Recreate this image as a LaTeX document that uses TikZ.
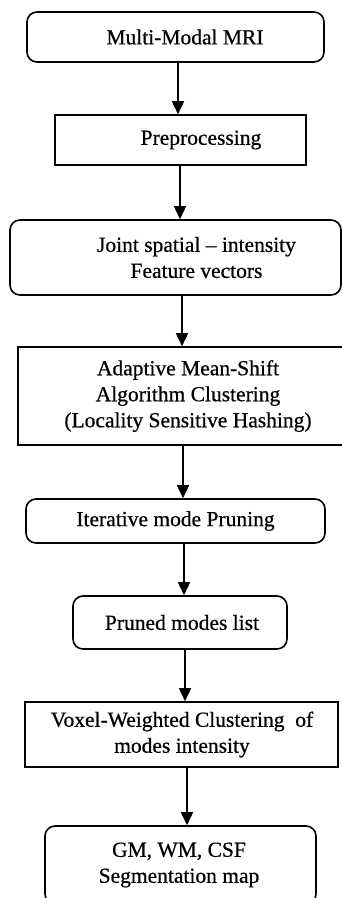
\documentclass[tikz,border=0pt]{standalone}
\usepackage{fontspec}
\setmainfont{Liberation Serif}[UprightFeatures={FakeBold=0.6}]
\usetikzlibrary{arrows.meta}

\newcommand{\boxfont}{\fontsize{21.5}{26}\selectfont}

\tikzset{
  base/.style={draw=black, line width=1.6pt, inner sep=0pt, fill=white},
  rbox/.style={base, rounded corners=10pt},
  sbox/.style={base},
  txt/.style={font=\boxfont, align=center, inner sep=0pt},
  arr/.style={line width=1.6pt, -{Triangle[width=12pt,length=13pt]}}
}

\begin{document}
\begin{tikzpicture}[x=1pt, y=-1pt]
  \path[use as bounding box, clip] (0,0) rectangle (342,898);

  % process steps
  \node[rbox, minimum width=297pt, minimum height=50pt,
        label={[txt, xshift=9.5pt]center:Multi-Modal MRI}] (n1) at (175.5,37) {};
  \node[sbox, minimum width=251pt, minimum height=50pt,
        label={[txt, xshift=20.5pt]center:Preprocessing}] (n2) at (180.5,140) {};
  \node[rbox, minimum width=331pt, minimum height=75pt,
        label={[txt, xshift=21pt]center:{Joint spatial – intensity\\Feature vectors}}] (n3) at (175.5,257.5) {};
  \node[sbox, minimum width=334pt, minimum height=98pt,
        label={[txt, xshift=3pt]center:{Adaptive Mean-Shift\\Algorithm Clustering\\(Locality Sensitive Hashing)}}] (n4) at (185,396) {};
  \node[rbox, minimum width=299pt, minimum height=44pt,
        label={[txt]center:Iterative mode Pruning}] (n5) at (175.5,521) {};
  \node[rbox, minimum width=214pt, minimum height=53pt,
        label={[txt, xshift=2pt]center:Pruned modes list}] (n6) at (180,622.5) {};
  \node[sbox, minimum width=313pt, minimum height=65pt,
        label={[txt, xshift=0.5pt]center:{Voxel-Weighted Clustering\ \ of\\modes intensity}}] (n7) at (181.5,734.5) {};
  \node[rbox, minimum width=271pt, minimum height=78pt,
        label={[txt, xshift=-1.5pt]center:{GM, WM, CSF\\Segmentation map}}] (n8) at (180.5,865) {};

  % flow arrows
  \draw[arr] ([xshift=2.5pt]n1.south) -- ([xshift=-2.5pt]n2.north);
  \draw[arr] ([xshift=-0.5pt]n2.south) -- ([xshift=4.5pt]n3.north);
  \draw[arr] ([xshift=6.5pt]n3.south) -- ([xshift=-3pt]n4.north);
  \draw[arr] ([xshift=-2pt]n4.south) -- ([xshift=7.5pt]n5.north);
  \draw[arr] ([xshift=8.5pt]n5.south) -- ([xshift=4pt]n6.north);
  \draw[arr] ([xshift=5pt]n6.south) -- ([xshift=3.5pt]n7.north);
  \draw[arr] ([xshift=5.5pt]n7.south) -- ([xshift=6.5pt]n8.north);
\end{tikzpicture}
\end{document}
